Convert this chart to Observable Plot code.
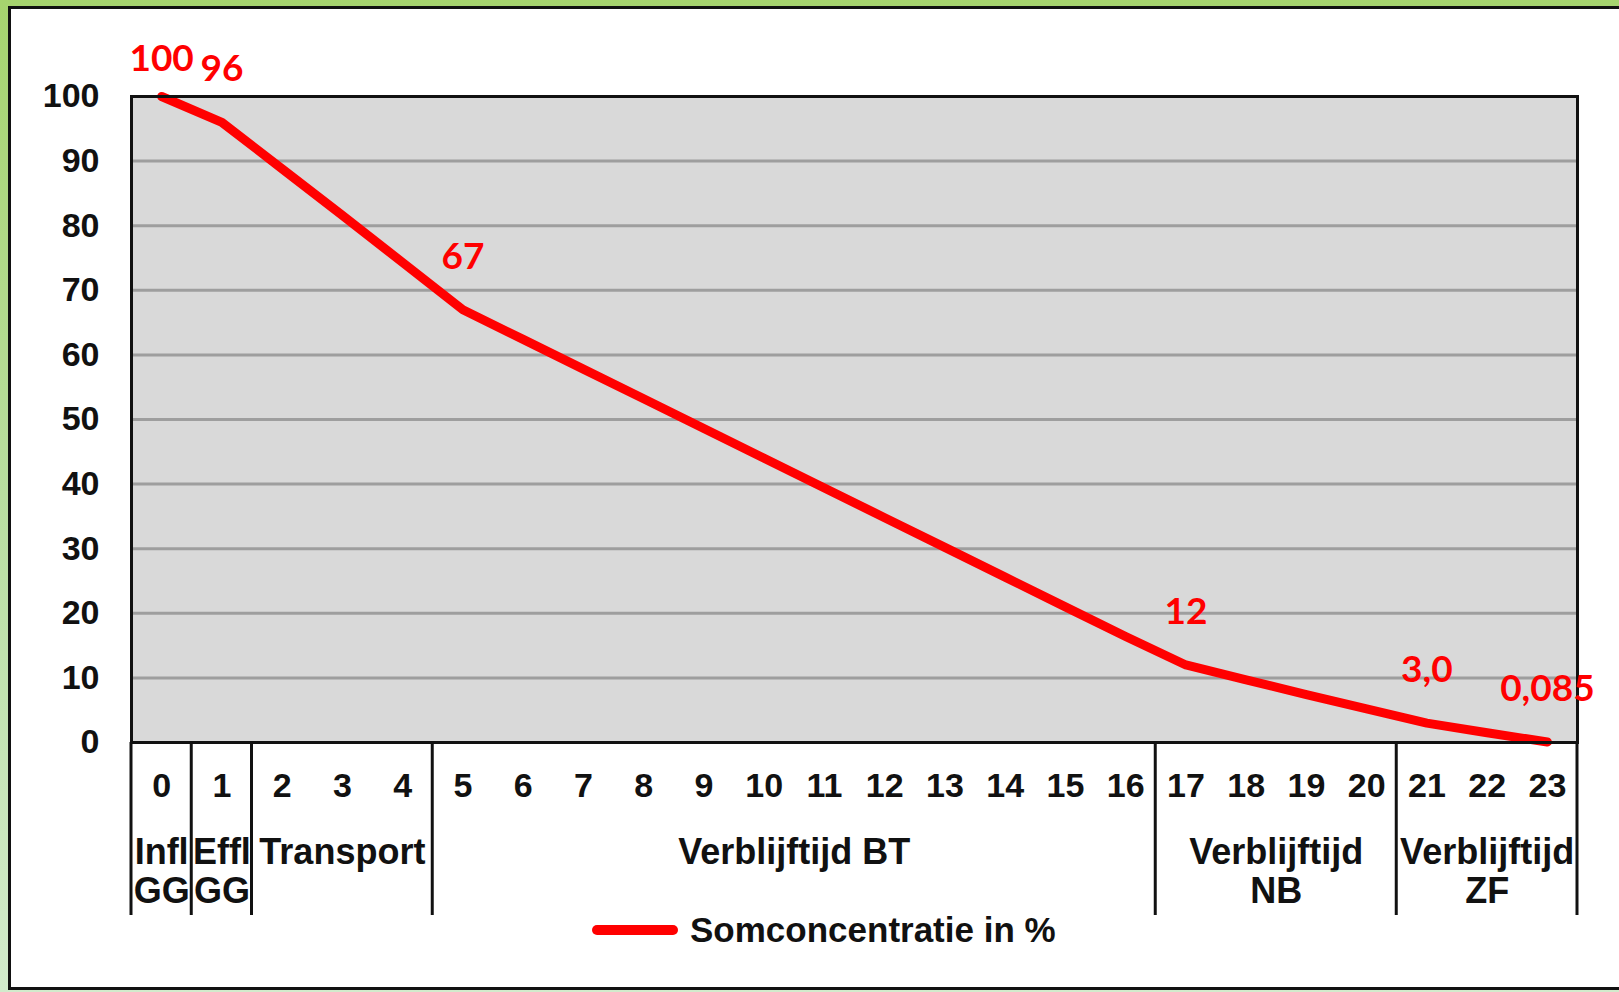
<!DOCTYPE html>
<html>
<head>
<meta charset="utf-8">
<script src="https://cdn.jsdelivr.net/npm/d3@7"></script>
<script src="https://cdn.jsdelivr.net/npm/@observablehq/plot@0.6"></script>
<style>
  html, body { margin: 0; padding: 0; }
  body {
    width: 1619px; height: 992px; overflow: hidden; position: relative;
    background: linear-gradient(to bottom, #a6d46e 0%, #b9dea0 50%, #d2ebcc 100%);
    font-family: "Liberation Sans", Arial, sans-serif;
  }
  #panel {
    position: absolute; left: 8px; top: 6px; width: 1700px; height: 984px;
    box-sizing: border-box; background: #fff;
    border: 3px solid #111;
  }
  #chart { position: absolute; left: 0; top: 0; }
  #legend {
    position: absolute; left: 592px; top: 910px; height: 40px;
    display: flex; align-items: center; gap: 12px;
    font-family: "Liberation Sans", Arial, sans-serif; font-weight: bold; font-size: 35px; color: #111;
  }
  #legend .swatch { display: inline-block; width: 86px; height: 10px; background: #ff0000; border-radius: 5px; }
</style>
</head>
<body>
<div id="panel"></div>
<div id="chart"></div>
<div id="legend"><span class="swatch"></span><span>Somconcentratie in %</span></div>
<script>
// ---- data ----
const xTicks = [0,1,2,3,4,5,6,7,8,9,10,11,12,13,14,15,16,17,18,19,20,21,22,23];
const values = [100, 96, 88.8, 81.6, 74.3, 67, 62.4, 57.8, 53.2, 48.6, 44.0, 39.4, 34.8, 30.2, 25.6, 21.0, 16.4, 12, 9.7, 7.4, 5.2, 3.0, 1.5, 0.085];
const yTicks = [0,10,20,30,40,50,60,70,80,90,100];
const labelIndex = [0, 1, 5, 17, 21, 23];
const labelTexts = ["100", "96", "67", "12", "3,0", "0,085"];
const groupStart = [0, 1, 2, 5, 17, 21];
const groupEnd   = [0, 1, 4, 16, 20, 23];
const groupLine1 = ["Infl", "Effl", "Transport", "Verblijftijd BT", "Verblijftijd", "Verblijftijd"];
const groupLine2 = ["GG", "GG", "", "", "NB", "ZF"];
const seriesName = "Somconcentratie in %";

// ---- tables built from the arrays ----
const series = xTicks.map((x, i) => ({x, v: values[i]}));
const labels = labelIndex.map((i, k) => ({x: xTicks[i], v: values[i], t: labelTexts[k]}));
const groups = groupStart.map((s, i) => ({mid: (s + groupEnd[i]) / 2, l1: groupLine1[i], l2: groupLine2[i]}));
const boundaries = groupStart.map(s => s - 0.5).concat([groupEnd[groupEnd.length - 1] + 0.5]);

const separators = (index, scales, values, dimensions) => {
  const g = d3.create("svg:g");
  const y0 = scales.y(0);
  for (const b of boundaries) {
    const x = scales.x(b);
    g.append("line").attr("x1", x).attr("x2", x).attr("y1", y0).attr("y2", y0 + 173)
      .attr("stroke", "#111").attr("stroke-width", 3);
  }
  return g.node();
};

const chart = Plot.plot({
  width: 1619,
  height: 918,
  marginLeft: 131,
  marginRight: 42,
  marginTop: 96,
  marginBottom: 176,
  style: {background: "transparent", overflow: "visible", fontFamily: "Liberation Sans, Arial, sans-serif", fontSize: "34px", fontWeight: "bold", color: "#111"},
  x: {domain: [-0.5, 23.5], axis: null},
  y: {domain: [0, 100], axis: null},
  marks: [
    Plot.frame({fill: "#d9d9d9"}),
    Plot.gridY(yTicks.filter(t => t > 0 && t < 100), {stroke: "#9e9e9e", strokeOpacity: 1, strokeWidth: 3}),
    Plot.line(series, {x: "x", y: "v", stroke: "#ff0000", strokeWidth: 9, strokeLinejoin: "round", strokeLinecap: "round"}),
    Plot.frame({stroke: "#111", strokeWidth: 3}),
    Plot.axisY(yTicks, {label: null, tickSize: 0, tickPadding: 32, fontSize: 34, fill: "#111"}),
    Plot.text(xTicks, {x: d => d, frameAnchor: "bottom", dy: 54, fontSize: 34, fill: "#111"}),
    Plot.text(groups, {x: "mid", text: "l1", frameAnchor: "bottom", dy: 121, fontSize: 36, fill: "#111"}),
    Plot.text(groups, {x: "mid", text: "l2", frameAnchor: "bottom", dy: 160, fontSize: 36, fill: "#111"}),
    separators,
    Plot.text(labels, {filter: (d, i) => i === 0, x: "x", y: "v", text: "t", dy: -37, fill: "#ff0000", fontFamily: "Lato", fontSize: 37, fontWeight: "bold"}),
    Plot.text(labels, {filter: (d, i) => i > 0, x: "x", y: "v", text: "t", dy: -53, fill: "#ff0000", fontFamily: "Lato", fontSize: 37, fontWeight: "bold"})
  ]
});
document.getElementById("chart").appendChild(chart);
</script>
</body>
</html>
